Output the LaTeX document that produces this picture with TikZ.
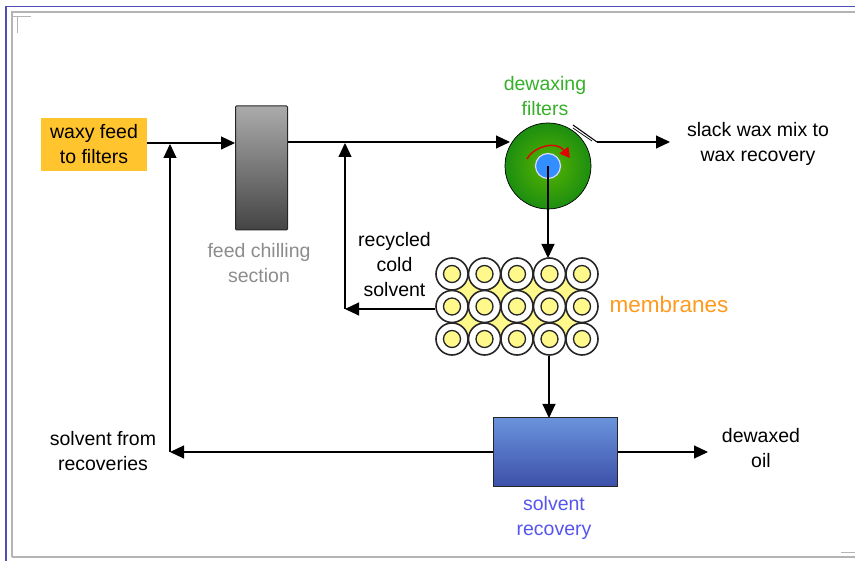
\documentclass[tikz,border=0pt]{standalone}
\usepackage{fontspec}
\setmainfont{Liberation Sans}
\usetikzlibrary{arrows.meta,positioning,shapes.geometric}
\definecolor{feedorange}{HTML}{FFC42E}
\definecolor{filtergreen}{HTML}{1C8E10}
\definecolor{filterlight}{HTML}{58B400}
\definecolor{labelgreen}{HTML}{35B028}
\definecolor{labelblue}{HTML}{5555EE}
\definecolor{labelorange}{HTML}{FF9A1E}
\definecolor{framegrey}{HTML}{B4B4B4}
\definecolor{frameblue}{HTML}{4E4EB4}
\definecolor{ringyellow}{HTML}{FFF98C}
\definecolor{recoverytop}{HTML}{6A93DC}
\definecolor{recoverybottom}{HTML}{3C4FA8}
\definecolor{chillertop}{HTML}{ABABAB}
\definecolor{chillerbottom}{HTML}{444444}
\tikzset{
    flow/.style={draw=black,line width=1.05pt,-{Triangle[length=14pt,width=13pt]}},
    plainflow/.style={draw=black,line width=1.05pt},
    label/.style={font=\fontsize{19.5}{25}\selectfont,align=center,text=black,inner sep=0pt},
}
\begin{document}
\begin{tikzpicture}[x=1pt,y=-1pt]
    \useasboundingbox (0,0) rectangle (855,561);

    % Page frame
    \draw[frameblue,line width=1.6pt] (6,561) -- (6,6.5) -- (855,6.5);
    \draw[framegrey,line width=1.4pt] (12,557) -- (12,12) -- (855,12);
    \draw[framegrey,line width=1.4pt] (12,557) -- (855,557);
    \draw[framegrey,line width=1pt] (17,16) -- (17,33);
    \draw[framegrey,line width=1pt] (12,17) -- (31,17);
    \draw[framegrey,line width=1pt] (841,552) -- (855,552);

    % Boxes
    \node[fill=feedorange,minimum width=106pt,minimum height=53pt,inner sep=0pt,label,anchor=center] (feed) at (94,144.5) {waxy feed\\to filters};
    \node[draw=black!85,line width=1pt,rounded corners=1pt,top color=chillertop,bottom color=chillerbottom,minimum width=52pt,minimum height=124pt,inner sep=0pt] (chiller) at (261.5,168) {};
    \node[draw=black!85,line width=1pt,top color=recoverytop,bottom color=recoverybottom,minimum width=124pt,minimum height=69pt,inner sep=0pt] (recovery) at (555,452.5) {};

    % Filter drum
    \node[circle,draw=black,line width=0.7pt,inner color=filterlight,outer color=filtergreen,minimum size=86pt,inner sep=0pt] (filter) at (548,166) {};
    \node[circle,draw=white!85!blue,line width=1.2pt,fill=blue!55!cyan!80,minimum size=25pt,inner sep=0pt] (hub) at (548,166) {};
    \draw[red!90!black,line width=1.4pt,-{Triangle[length=10pt,width=11pt]}] (527,159) .. controls (533,147) and (556,140) .. (570,158);

    % Membrane bank, diamonds first so the rings sit on top
    \foreach \c/\xm in {1/468,2/500.5,3/533,4/565.5}
        \foreach \r/\ym in {1/290.5,2/323}
            \fill[ringyellow] (\xm-17,\ym) -- (\xm,\ym-17) -- (\xm+17,\ym) -- (\xm,\ym+17) -- cycle;
    \foreach \c/\xm in {1/452,2/484.5,3/517,4/549.5,5/582}
        \foreach \r/\ym in {1/274,2/306.5,3/339} {
            \node[circle,draw=black!85,line width=1.6pt,fill=white,minimum size=32pt,inner sep=0pt] (ring\c\r) at (\xm,\ym) {};
            \node[circle,draw=black!85,line width=1.3pt,fill=ringyellow,minimum size=17pt,inner sep=0pt] at (\xm,\ym) {};
        }

    % Free ends and junctions
    \coordinate (scraper) at (573,125);
    \coordinate (scraperlow) at (573,128);
    \coordinate (scraperlowend) at (592,141);
    \coordinate (scraperend) at (597,142);
    \coordinate (slackend) at (670,142);
    \coordinate (coldjoin) at (345,309);
    \coordinate (coldtop) at (345,143);
    \coordinate (solventjoin) at (170,452);
    \coordinate (solventtop) at (170,144);
    \coordinate (oilend) at (708,452);
    \coordinate (feedin) at (235,143);
    \coordinate (hubend) at (548,258);
    \coordinate (recoveryin) at (549,418);

    % Flows
    \draw[flow] (feed.east |- feedin) -- (feedin);
    \draw[flow] (chiller.east |- 0,142) -- (510,142);
    \draw[plainflow] (scraper) -- (scraperend);
    \draw[plainflow,line width=0.7pt] (scraperlow) -- (scraperlowend);
    \draw[flow] (scraperend) -- (slackend);
    \draw[flow] (hub.center) -- (hubend);
    \draw[flow] (ring12.west |- coldjoin) -- (coldjoin);
    \draw[flow] (coldjoin) -- (coldtop);
    \draw[flow] (ring43.south -| recoveryin) -- (recoveryin);
    \draw[flow] (recovery.west |- solventjoin) -- (solventjoin);
    \draw[flow] (solventjoin) -- (solventtop);
    \draw[flow] (recovery.east |- oilend) -- (oilend);

    % Labels
    \node[label,text=labelgreen] (filtertext) at (545,96) {dewaxing\\filters};
    \node[label] (slacktext) at (758,144) {slack wax mix to\\wax recovery};
    \node[label,text=black!45] (chillertext) at (259,263.5) {feed chilling\\section};
    \node[label] (coldtext) at (394.5,264.5) {recycled\\cold\\solvent};
    \node[label,text=labelorange,font=\fontsize{22.5}{25}\selectfont] (membranetext) at (669,304.5) {membranes};
    \node[label] (solventtext) at (103,451.5) {solvent from\\recoveries};
    \node[label] (oiltext) at (761,448.5) {dewaxed\\oil};
    \node[label,text=labelblue] (recoverytext) at (554,517.5) {solvent\\recovery};
\end{tikzpicture}
\end{document}
